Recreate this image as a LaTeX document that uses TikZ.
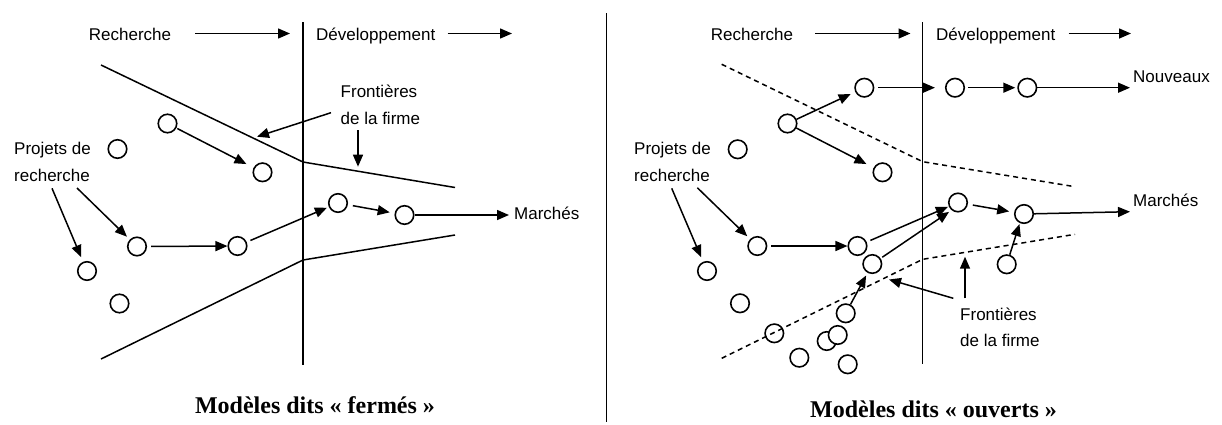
\documentclass[tikz,border=0pt]{standalone}
\usepackage{fontspec}
\setmainfont{Liberation Serif}
\newfontfamily\labfont{Liberation Sans}
\usetikzlibrary{arrows.meta}
\begin{document}
\begin{tikzpicture}[x=1pt,y=-1pt,
  circ/.style={circle,draw,line width=1.6pt,minimum size=18.5pt,inner sep=0pt},
  arr/.style={line width=1.5pt,-{Triangle[length=12pt,width=10pt]}},
  bnd/.style={line width=1.5pt},
  dbnd/.style={line width=1.5pt,dash pattern=on 5pt off 4pt},
  lab/.style={font=\labfont\fontsize{17}{20}\selectfont,inner sep=0pt,anchor=base west},
  ttl/.style={font=\fontsize{24}{28}\selectfont\bfseries,inner sep=0pt,anchor=base}]
\useasboundingbox (0,0) rectangle (1222,424);

% separator
\coordinate (sept) at (606.5,13);
\coordinate (sepb) at (606.5,422);
\draw[line width=1.3pt] (sept) -- (sepb);

%%%%%%%%%%%%%%%% LEFT PANEL %%%%%%%%%%%%%%%%
\node[lab] (rechL) at (88.7,40) {Recherche};
\node[lab] (devL) at (316,40) {Développement};
\coordinate (ra1s) at (195,33.5); \coordinate (ra1e) at (290,33.5);
\coordinate (ra2s) at (447.5,33.5); \coordinate (ra2e) at (512,33.5);
\draw[arr] (ra1s) -- (ra1e);
\draw[arr] (ra2s) -- (ra2e);
\coordinate (vLt) at (303,22); \coordinate (vLb) at (303,365);
\draw[bnd] (vLt) -- (vLb);

\coordinate (uLa) at (101,65); \coordinate (uLb) at (303,162); \coordinate (uLc) at (455,187.5);
\coordinate (lLa) at (101,359); \coordinate (lLb) at (303,260); \coordinate (lLc) at (455,235);
\draw[bnd] (uLa) -- (uLb) -- (uLc);
\draw[bnd] (lLa) -- (lLb) -- (lLc);

\node[lab] (projL) at (14,154.5) {Projets de};
\node[lab] (rchL) at (14,181) {recherche};
\node[lab] (fr1L) at (340.5,97.7) {Frontières};
\node[lab] (fr2L) at (340.5,124.3) {de la firme};
\node[lab] (marL) at (514,219) {Marchés};

\node[circ] (A) at (167.5,123.5) {};
\node[circ] (P) at (117.5,149) {};
\node[circ] (B) at (262.5,172.3) {};
\node[circ] (C1) at (87,271) {};
\node[circ] (C2) at (137,246.5) {};
\node[circ] (C3) at (237.5,246) {};
\node[circ] (C4) at (338,203) {};
\node[circ] (C5) at (404.5,215) {};
\node[circ] (C6) at (119.5,303.5) {};

\coordinate (la1) at (52,188.3);
\coordinate (la2) at (77,188);
\draw[arr,shorten >=5pt] (la1) -- (C1);
\draw[arr,shorten >=4pt] (la2) -- (C2);
\draw[arr,shorten <=1pt,shorten >=8pt] (A) -- (B);
\draw[arr,shorten <=4pt] (C2) -- (C3);
\draw[arr,shorten <=4pt,shorten >=2pt] (C3) -- (C4);
\draw[arr,shorten <=5pt,shorten >=5pt] (C4) -- (C5);
\coordinate (mLe) at (509,215);
\draw[arr] (C5) -- (mLe);
\coordinate (fLa) at (331,112.7); \coordinate (fLat) at (257,136.7);
\draw[arr] (fLa) -- (fLat);
\coordinate (fLb) at (358,130); \coordinate (fLbt) at (358,166.7);
\draw[arr] (fLb) -- (fLbt);

\node[ttl] (tL) at (315,413) {Modèles dits « fermés »};

%%%%%%%%%%%%%%%% RIGHT PANEL %%%%%%%%%%%%%%%%
\node[lab] (rechR) at (710.7,40) {Recherche};
\node[lab] (devR) at (936,40) {Développement};
\coordinate (rb1s) at (815,33.5); \coordinate (rb1e) at (910.5,33.5);
\coordinate (rb2s) at (1068.6,33.5); \coordinate (rb2e) at (1131,33.5);
\draw[arr] (rb1s) -- (rb1e);
\draw[arr] (rb2s) -- (rb2e);
\coordinate (vRt) at (922.7,22); \coordinate (vRb) at (922.7,363.5);
\draw[bnd] (vRt) -- (vRb);

\coordinate (uRa) at (721.7,64.3); \coordinate (uRb) at (922.7,161.7); \coordinate (uRc) at (1075,186.7);
\coordinate (lRa) at (721.7,358.3); \coordinate (lRb) at (922.7,259.3); \coordinate (lRc) at (1075,234.3);
\draw[dbnd] (uRa) -- (uRb) -- (uRc);
\draw[dbnd] (lRa) -- (lRb) -- (lRc);

\node[lab] (projR) at (634,154.5) {Projets de};
\node[lab] (rchR) at (634,181) {recherche};
\node[lab] (nouv) at (1133,82.7) {Nouveaux};
\node[lab] (marR) at (1133,206.7) {Marchés};
\node[lab] (fr1R) at (960,320) {Frontières};
\node[lab] (fr2R) at (960,346.7) {de la firme};

\node[circ] (R1) at (787.5,123.5) {};
\node[circ] (R2) at (864.3,87.7) {};
\node[circ] (R3) at (882.5,172.3) {};
\node[circ] (R4) at (955,87.7) {};
\node[circ] (R5) at (1027.3,87.7) {};
\node[circ] (RP) at (737.7,149.3) {};
\node[circ] (R6) at (958,202.5) {};
\node[circ] (R7) at (1024,214) {};
\node[circ] (R8) at (757.3,246) {};
\node[circ] (R9) at (857.5,246) {};
\node[circ] (R10) at (872.3,264) {};
\node[circ] (R11) at (1006.7,264.3) {};
\node[circ] (R12) at (845.7,313.3) {};
\node[circ] (R13) at (826.7,341) {};
\node[circ,fill=white] (R13b) at (837.7,335) {};
\node[circ] (R14) at (799.3,357.7) {};
\node[circ] (R15) at (847.7,364.3) {};
\node[circ] (R16) at (774.3,333.3) {};
\node[circ] (R17) at (740,303.3) {};
\node[circ] (R18) at (707,271) {};

\coordinate (rl1) at (671.7,188.3);
\coordinate (rl2) at (697.3,187.7);
\draw[arr,shorten >=5pt] (rl1) -- (R18);
\draw[arr,shorten >=4pt] (rl2) -- (R8);
\draw[arr,shorten >=5pt] (R1) -- (R2);
\draw[arr,shorten >=8pt] (R1) -- (R3);
\draw[arr,shorten <=4pt,shorten >=10pt] (R2) -- (R4);
\draw[arr,shorten <=3pt,shorten >=2pt] (R4) -- (R5);
\coordinate (nvE) at (1130,87.7);
\draw[arr] (R5) -- (nvE);
\draw[arr,shorten <=4pt] (R8) -- (R9);
\draw[arr,shorten <=4pt,shorten >=1pt] (R9) -- (R6);
\draw[arr,shorten <=2pt,shorten >=3pt] (R10) -- (R6.230);
\draw[arr,shorten <=5pt,shorten >=5pt] (R6) -- (R7);
\coordinate (mRe) at (1130,211.7);
\draw[arr] (R7) -- (mRe);
\draw[arr,shorten >=1pt] (R11) -- (R7.245);
\draw[arr,shorten >=3pt] (R12) -- (R10);
\coordinate (fRa) at (953.3,298.3); \coordinate (fRat) at (889,279.5);
\draw[arr] (fRa) -- (fRat);
\coordinate (fRb) at (965,298.3); \coordinate (fRbt) at (965,256.7);
\draw[arr] (fRb) -- (fRbt);

\node[ttl] (tR) at (933.5,417) {Modèles dits « ouverts »};
\end{tikzpicture}
\end{document}
